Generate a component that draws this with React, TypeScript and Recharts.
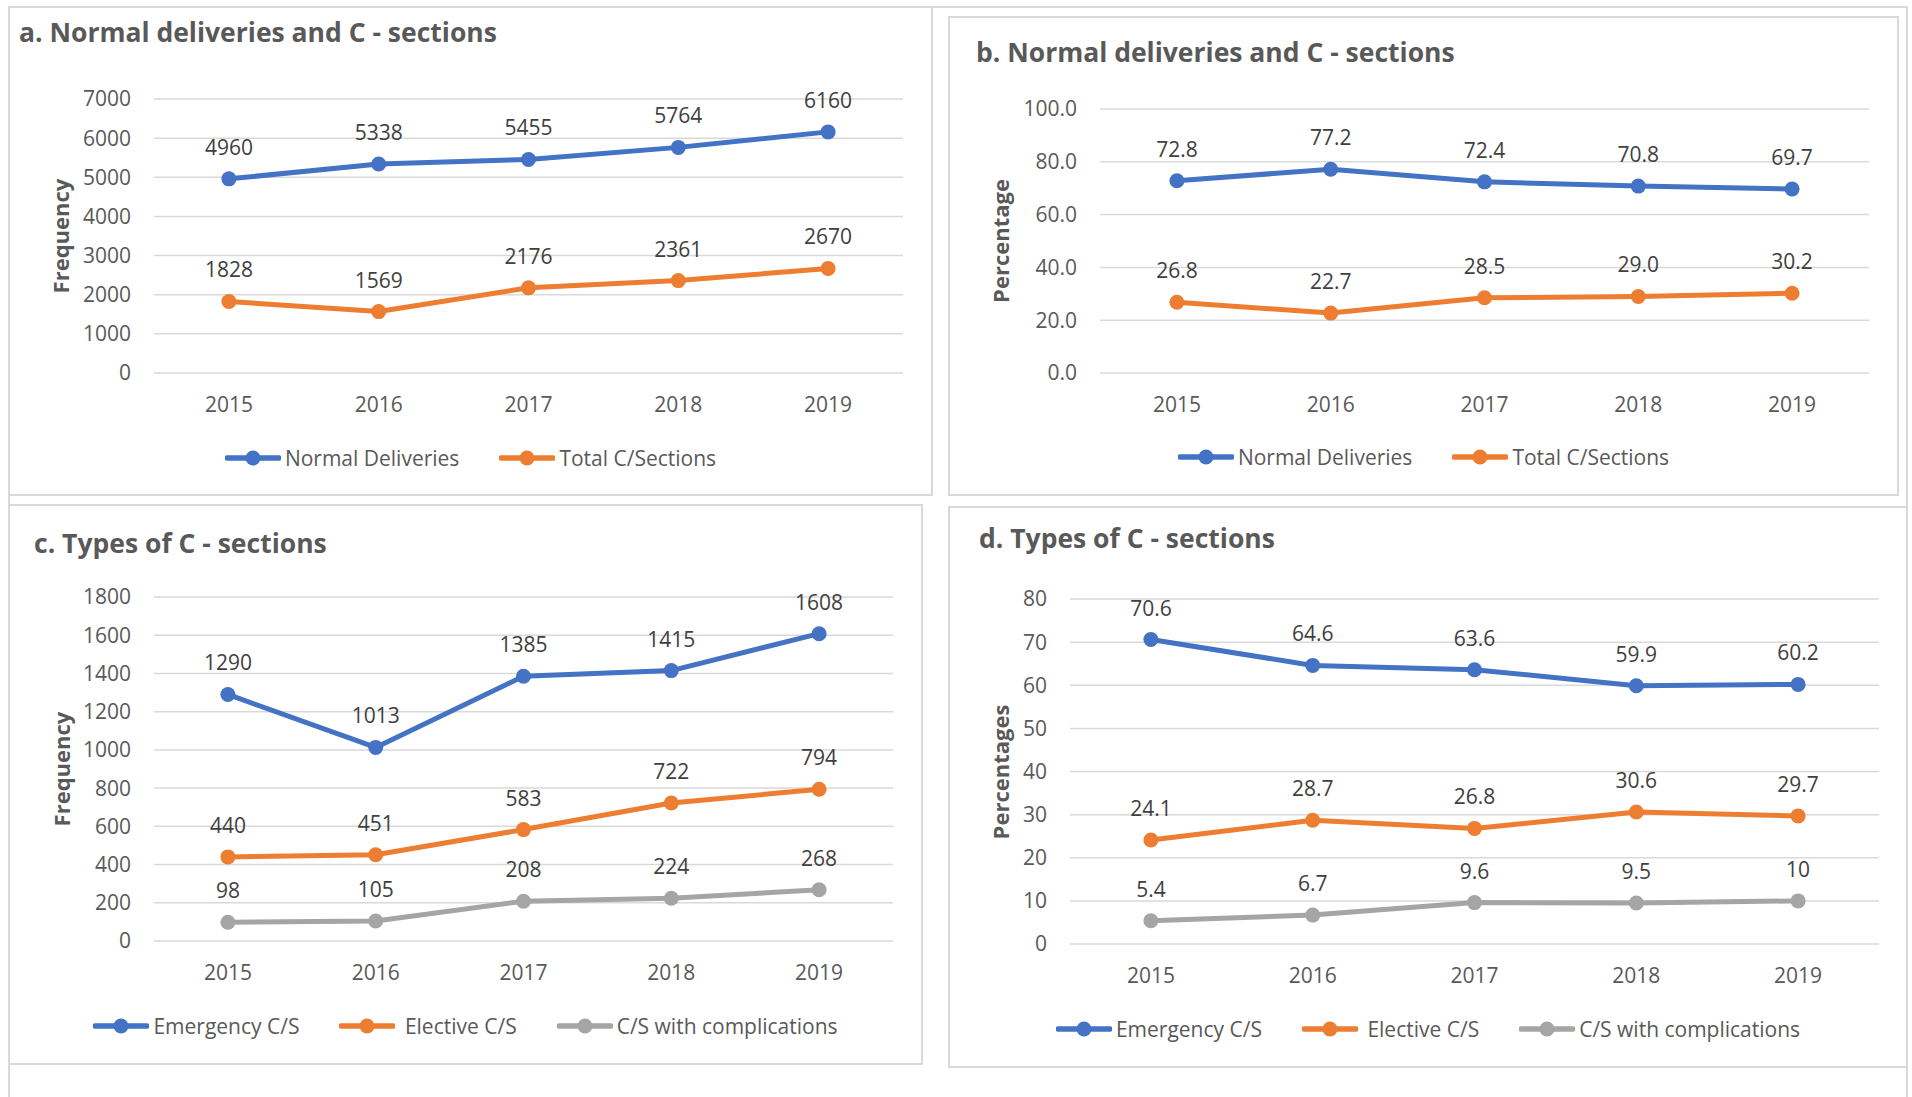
import { LineChart, Line, XAxis, YAxis, CartesianGrid, LabelList } from 'recharts';

// Delivery figures per year
const YEARS = ['2015', '2016', '2017', '2018', '2019'];

const NORMAL_COUNT = [4960, 5338, 5455, 5764, 6160];
const CSECTION_COUNT = [1828, 1569, 2176, 2361, 2670];

const NORMAL_PCT = [72.8, 77.2, 72.4, 70.8, 69.7];
const CSECTION_PCT = [26.8, 22.7, 28.5, 29.0, 30.2];

const EMERGENCY_COUNT = [1290, 1013, 1385, 1415, 1608];
const ELECTIVE_COUNT = [440, 451, 583, 722, 794];
const COMPLICATED_COUNT = [98, 105, 208, 224, 268];

const EMERGENCY_PCT = [70.6, 64.6, 63.6, 59.9, 60.2];
const ELECTIVE_PCT = [24.1, 28.7, 26.8, 30.6, 29.7];
const COMPLICATED_PCT = [5.4, 6.7, 9.6, 9.5, 10];

const TICKS_A = [0, 1000, 2000, 3000, 4000, 5000, 6000, 7000];
const TICKS_B = [0, 20, 40, 60, 80, 100];
const TICKS_C = [0, 200, 400, 600, 800, 1000, 1200, 1400, 1600, 1800];
const TICKS_D = [0, 10, 20, 30, 40, 50, 60, 70, 80];

const FONT = '"Open Sans", "Liberation Sans", sans-serif';
const BLUE = '#4472c4';
const ORANGE = '#ed7d31';
const GRAY = '#a5a5a5';
const BORDER = '#d9d9d9';

const rowsOf = (cols: Record<string, number[]>) =>
    YEARS.map((year, i) => {
        const row: Record<string, string | number> = { year };
        Object.keys(cols).forEach((k) => (row[k] = cols[k][i]));
        return row;
    });

const oneDecimal = (v: any) => Number(v).toFixed(1);
const plain = (v: any) => String(v);

const DELIVERY_SERIES = [
    { key: 'normal', name: 'Normal Deliveries', color: BLUE },
    { key: 'csection', name: 'Total C/Sections', color: ORANGE },
];
const TYPE_SERIES = [
    { key: 'emergency', name: 'Emergency C/S', color: BLUE },
    { key: 'elective', name: ' Elective C/S', color: ORANGE },
    { key: 'complicated', name: 'C/S with complications', color: GRAY },
];

const PANELS = [
    {
        id: 'a',
        box: { x1: 9, y1: 7, x2: 932, y2: 495 },
        title: 'a. Normal deliveries and C - sections',
        titleAt: [19, 42],
        axisTitle: 'Frequency',
        axisAt: [60, 236],
        plot: { x: 154, y: 99, w: 749, h: 274 },
        ticks: TICKS_A,
        tickFmt: plain,
        labelFmt: plain,
        series: DELIVERY_SERIES,
        rows: rowsOf({ normal: NORMAL_COUNT, csection: CSECTION_COUNT }),
        legendY: 458,
    },
    {
        id: 'b',
        box: { x1: 949, y1: 17, x2: 1898, y2: 495 },
        title: 'b. Normal deliveries and C - sections',
        titleAt: [976, 62],
        axisTitle: 'Percentage',
        axisAt: [1000, 241],
        plot: { x: 1100, y: 109, w: 769, h: 264 },
        ticks: TICKS_B,
        tickFmt: oneDecimal,
        labelFmt: oneDecimal,
        series: DELIVERY_SERIES,
        rows: rowsOf({ normal: NORMAL_PCT, csection: CSECTION_PCT }),
        legendY: 457,
    },
    {
        id: 'c',
        box: { x1: 9, y1: 505, x2: 922, y2: 1064 },
        title: 'c. Types of C - sections',
        titleAt: [34, 553],
        axisTitle: 'Frequency',
        axisAt: [61, 769],
        plot: { x: 154, y: 597, w: 739, h: 344 },
        ticks: TICKS_C,
        tickFmt: plain,
        labelFmt: plain,
        series: TYPE_SERIES,
        rows: rowsOf({ emergency: EMERGENCY_COUNT, elective: ELECTIVE_COUNT, complicated: COMPLICATED_COUNT }),
        legendY: 1026,
    },
    {
        id: 'd',
        box: { x1: 949, y1: 507, x2: 1907, y2: 1067 },
        title: 'd. Types of C - sections',
        titleAt: [979, 548],
        axisTitle: 'Percentages',
        axisAt: [1000, 772],
        plot: { x: 1070, y: 599, w: 809, h: 345 },
        ticks: TICKS_D,
        tickFmt: plain,
        labelFmt: plain,
        series: TYPE_SERIES,
        rows: rowsOf({ emergency: EMERGENCY_PCT, elective: ELECTIVE_PCT, complicated: COMPLICATED_PCT }),
        legendY: 1029,
    },
];

type Panel = (typeof PANELS)[number];

const tickStyle = { fill: '#595959', fontSize: 21, fontFamily: FONT };

function PanelChart({ p }: { p: Panel }) {
    const TOP = 60;
    const RIGHT = 12;
    const YW = 110;
    const XH = 60;
    const max = p.ticks[p.ticks.length - 1];
    return (
        <div style={{ position: 'absolute', left: p.plot.x - YW, top: p.plot.y - TOP }}>
            <LineChart
                width={YW + p.plot.w + RIGHT}
                height={TOP + p.plot.h + XH}
                data={p.rows}
                margin={{ top: TOP, right: RIGHT, left: 0, bottom: 0 }}
            >
                <CartesianGrid vertical={false} stroke={BORDER} strokeWidth={1.5} />
                <XAxis
                    dataKey="year"
                    height={XH}
                    axisLine={false}
                    tickLine={false}
                    tickSize={0}
                    tickMargin={24}
                    interval={0}
                    padding={{ left: p.plot.w / 10, right: p.plot.w / 10 }}
                    tick={tickStyle}
                />
                <YAxis
                    width={YW}
                    domain={[0, max]}
                    ticks={p.ticks}
                    interval={0}
                    axisLine={false}
                    tickLine={false}
                    tickSize={0}
                    tickMargin={23}
                    tick={tickStyle}
                    tickFormatter={p.tickFmt}
                />
                {p.series.map((s) => (
                    <Line
                        key={s.key}
                        dataKey={s.key}
                        name={s.name}
                        stroke={s.color}
                        strokeWidth={5}
                        strokeLinecap="round"
                        strokeLinejoin="round"
                        dot={{ r: 7.5, fill: s.color, stroke: s.color, strokeWidth: 0 }}
                        activeDot={false}
                        isAnimationActive={false}
                    >
                        <LabelList
                            dataKey={s.key}
                            position="top"
                            offset={24}
                            fill="#404040"
                            fontSize={21}
                            fontFamily={FONT}
                            formatter={p.labelFmt}
                        />
                    </Line>
                ))}
            </LineChart>
        </div>
    );
}

function PanelLegend({ p }: { p: Panel }) {
    return (
        <div
            style={{
                position: 'absolute',
                left: p.box.x1,
                width: p.box.x2 - p.box.x1,
                top: p.legendY - 16,
                height: 32,
                display: 'flex',
                justifyContent: 'center',
                alignItems: 'center',
                gap: 40,
                fontFamily: FONT,
                fontSize: 21,
                color: '#595959',
            }}
        >
            {p.series.map((s) => (
                <div key={s.key} style={{ display: 'flex', alignItems: 'center' }}>
                    <svg width={56} height={16} style={{ display: 'block' }}>
                        <line x1={2} y1={8} x2={54} y2={8} stroke={s.color} strokeWidth={5.5} strokeLinecap="round" />
                        <circle cx={28} cy={8} r={7.5} fill={s.color} />
                    </svg>
                    <span style={{ marginLeft: 4, whiteSpace: 'pre', lineHeight: '32px' }}>{s.name}</span>
                </div>
            ))}
        </div>
    );
}

export default function App() {
    return (
        <div style={{ position: 'absolute', left: 0, top: 0, width: 1912, height: 1097, background: '#fff', overflow: 'hidden' }}>
            <svg width={1912} height={1097} style={{ position: 'absolute', left: 0, top: 0 }}>
                {/* outer frame, open at the bottom */}
                <path d="M9 1097 V7 H1907 V1097" fill="none" stroke={BORDER} strokeWidth={2} />
                {PANELS.map((p) => (
                    <g key={p.id}>
                        <rect
                            x={p.box.x1}
                            y={p.box.y1}
                            width={p.box.x2 - p.box.x1}
                            height={p.box.y2 - p.box.y1}
                            fill="none"
                            stroke={BORDER}
                            strokeWidth={2}
                        />
                        <text
                            x={p.titleAt[0]}
                            y={p.titleAt[1]}
                            fontFamily={FONT}
                            fontWeight="bold"
                            fontSize={26.5}
                            fill="#595959"
                        >
                            {p.title}
                        </text>
                        <text
                            x={p.axisAt[0]}
                            y={p.axisAt[1]}
                            transform={`rotate(-90 ${p.axisAt[0]} ${p.axisAt[1]})`}
                            textAnchor="middle"
                            dominantBaseline="central"
                            fontFamily={FONT}
                            fontWeight="bold"
                            fontSize={22}
                            fill="#595959"
                        >
                            {p.axisTitle}
                        </text>
                    </g>
                ))}
            </svg>
            {PANELS.map((p) => (
                <PanelChart key={p.id} p={p} />
            ))}
            {PANELS.map((p) => (
                <PanelLegend key={p.id} p={p} />
            ))}
        </div>
    );
}
